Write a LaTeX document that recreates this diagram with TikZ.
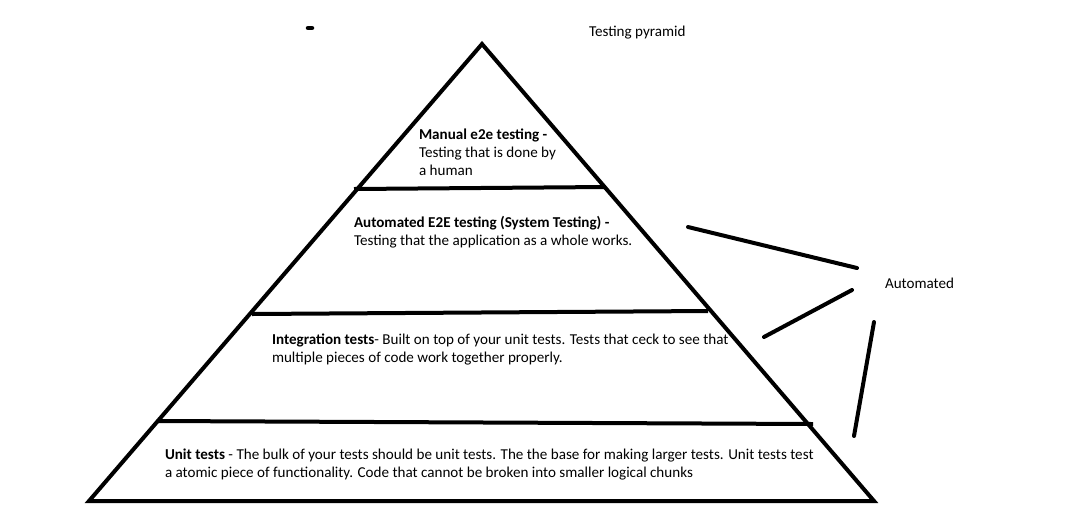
\documentclass[tikz,border=0pt]{standalone}
\usepackage{fontspec}
\setmainfont{Carlito}
\usetikzlibrary{positioning}

\begin{document}
\begin{tikzpicture}[x=1pt,y=-1pt,line width=4pt]
  \tikzstyle{every node}=[inner sep=0pt,anchor=base west,align=left,font=\fontsize{15.1}{18}\selectfont]
  \tikzstyle{stroke}=[line cap=round]
  \useasboundingbox (0,0) rectangle (1078,531);

  % pyramid corners and bands
  \coordinate (top) at (482,44);
  \coordinate (bl)  at (89,501);
  \coordinate (br)  at (874,501);
  \coordinate (l1) at (354,189); \coordinate (r1) at (606,187);
  \coordinate (l2) at (252,314); \coordinate (r2) at (708,311);
  \coordinate (l3) at (158,421); \coordinate (r3) at (813,424);

  \draw (top) -- (bl) -- (br) -- cycle;
  \draw (l1) -- (r1);
  \draw (l2) -- (r2);
  \draw (l3) -- (r3);

  % stray mark
  \coordinate (m1) at (308,28); \coordinate (m2) at (312,28);
  \draw[stroke,line width=4.5pt] (m1) -- (m2);

  % base anchor sits on the last line
  \node (title) at (587,36) {Testing pyramid};
  \node (manual) at (417,175) {\textbf{Manual e2e testing -}\\Testing that is done by\\a human};
  \node (system) at (352,245) {\textbf{Automated E2E testing (System Testing) -}\\Testing that the application as a whole works.};
  \node (integration) at (270,362) {\textbf{Integration tests}- Built on top of your unit tests. Tests that ceck to see that\\multiple pieces of code work together properly.};
  \node (unit) at (163,477) {\textbf{Unit tests} - The bulk of your tests should be unit tests. The the base for making larger tests. Unit tests test\\a atomic piece of functionality. Code that cannot be broken into smaller logical chunks};
  \node (automated) at (883,288) {Automated};

  % brace strokes towards the label
  \coordinate (a1) at (688,227); \coordinate (a2) at (857,268);
  \coordinate (b1) at (852,290); \coordinate (b2) at (764,337);
  \coordinate (c1) at (874,322); \coordinate (c2) at (854,436);
  \draw[stroke] (a1) -- (a2);
  \draw[stroke] (b1) -- (b2);
  \draw[stroke] (c1) -- (c2);
\end{tikzpicture}
\end{document}
